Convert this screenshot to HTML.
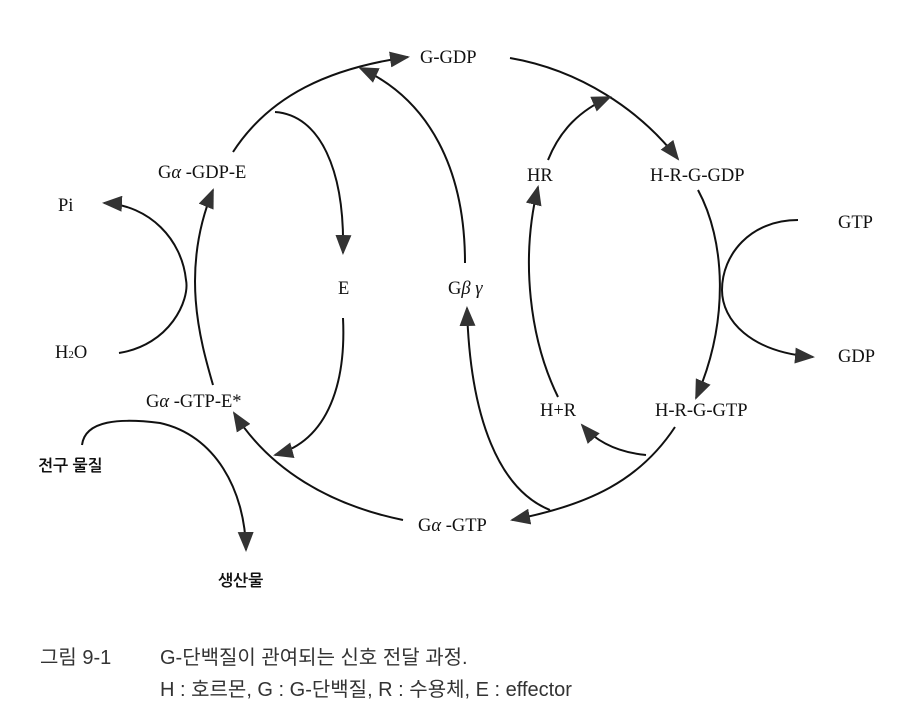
<!DOCTYPE html>
<html><head><meta charset="utf-8"><style>
html,body{margin:0;padding:0;background:#fff;}
svg{display:block;}
text{font-family:"Liberation Serif","Noto Serif CJK SC",serif;font-size:18.5px;fill:#111;}
.k{font-family:"Liberation Sans","NanumGothic",sans-serif;font-size:16px;font-weight:bold;}
.cap{font-family:"Liberation Sans","Noto Sans CJK KR",sans-serif;font-size:20px;fill:#333;}
</style></head><body>
<svg width="916" height="714" viewBox="0 0 916 714" xmlns="http://www.w3.org/2000/svg">
<defs>
<marker id="a" viewBox="0 0 20 16" refX="18" refY="8" markerWidth="20" markerHeight="16" markerUnits="userSpaceOnUse" orient="auto">
<path d="M0,0 L20,8 L0,16 Z" fill="#333"/></marker>
</defs>
<g fill="none" stroke="#111" stroke-width="2">
<path d="M213,385 C200,340 180,270 213,190" marker-end="url(#a)"/>
<path d="M233,152 C270,95 330,68 408,57" marker-end="url(#a)"/>
<path d="M275,112 C320,115 345,170 343,253" marker-end="url(#a)"/>
<path d="M465,263 C465,170 430,100 360,68" marker-end="url(#a)"/>
<path d="M119,353 C170,345 190,300 186,280 C182,240 150,205 104,203" marker-end="url(#a)"/>
<path d="M510,58 C580,70 640,110 678,159" marker-end="url(#a)"/>
<path d="M548,160 C560,130 580,110 610,97" marker-end="url(#a)"/>
<path d="M558,397 C530,340 520,260 538,187" marker-end="url(#a)"/>
<path d="M698,190 C725,240 730,320 696,398" marker-end="url(#a)"/>
<path d="M798,220 C750,220 722,255 722,290 C722,320 750,352 813,357" marker-end="url(#a)"/>
<path d="M675,427 C640,480 590,505 512,520" marker-end="url(#a)"/>
<path d="M646,455 C615,452 595,440 582,425" marker-end="url(#a)"/>
<path d="M550,510 C500,490 470,420 467,308" marker-end="url(#a)"/>
<path d="M403,520 C330,505 270,470 234,413" marker-end="url(#a)"/>
<path d="M343,318 C346,380 330,440 275,455" marker-end="url(#a)"/>
<path d="M82,445 C85,420 120,418 160,423 C215,435 245,490 246,550" marker-end="url(#a)"/>
</g>
<text x="420" y="63">G-GDP</text>
<text x="158" y="178">G<tspan font-style="italic">α</tspan> -GDP-E</text>
<text x="58" y="211">Pi</text>
<text x="338" y="294">E</text>
<text x="448" y="294">G<tspan font-style="italic">β γ</tspan></text>
<text x="527" y="181">HR</text>
<text x="650" y="181">H-R-G-GDP</text>
<text x="838" y="228">GTP</text>
<text x="838" y="362">GDP</text>
<text x="55" y="358">H<tspan font-size="11">2</tspan>O</text>
<text x="146" y="407">G<tspan font-style="italic">α</tspan> -GTP-E*</text>
<text x="540" y="416">H+R</text>
<text x="655" y="416">H-R-G-GTP</text>
<text class="k" x="38" y="471">전구 물질</text>
<text x="418" y="531">G<tspan font-style="italic">α</tspan> -GTP</text>
<text class="k" x="218" y="586">생산물</text>
<text class="cap" x="40" y="664">그림 9-1</text>
<text class="cap" x="160" y="664">G-단백질이 관여되는 신호 전달 과정.</text>
<text class="cap" x="160" y="696">H : 호르몬, G : G-단백질, R : 수용체, E : effector</text>
</svg>
</body></html>
